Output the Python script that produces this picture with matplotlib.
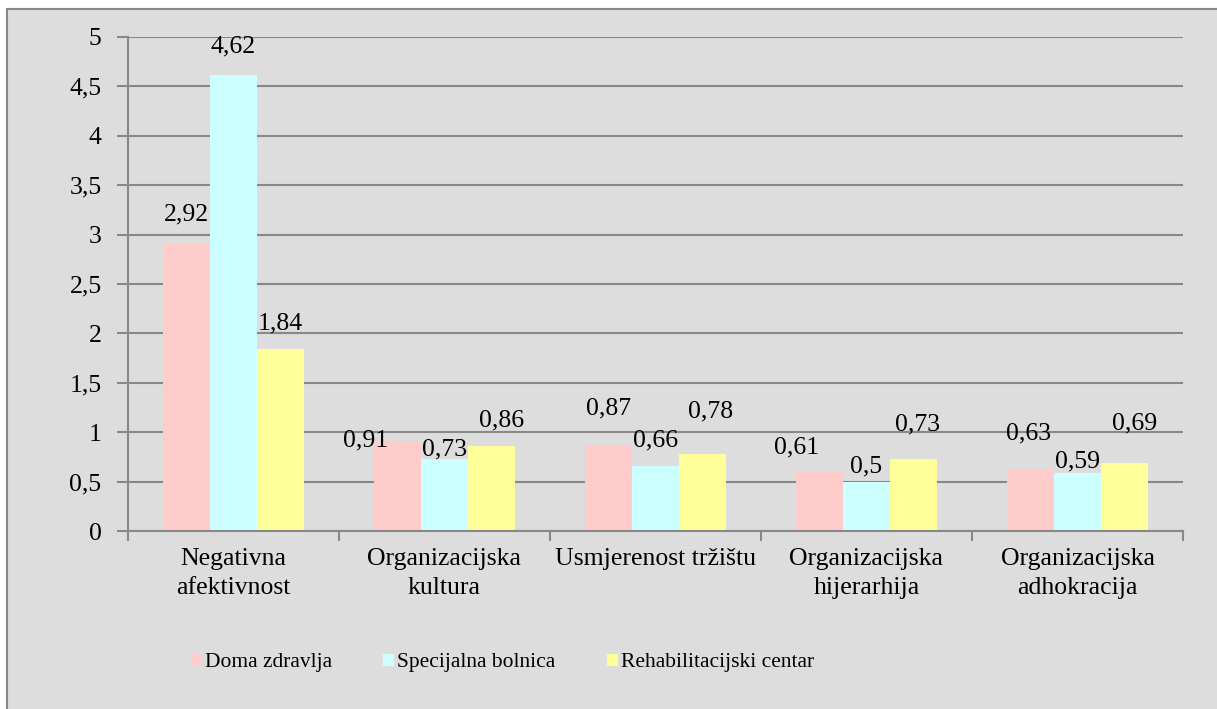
import numpy as np
import matplotlib.pyplot as plt
from matplotlib.patches import Rectangle

kategorije = ["Negativna\nafektivnost", "Organizacijska\nkultura", "Usmjerenost tržištu",
              "Organizacijska\nhijerarhija", "Organizacijska\nadhokracija"]
serije = ["Doma zdravlja", "Specijalna bolnica", "Rehabilitacijski centar"]
doma = [2.92, 0.91, 0.87, 0.61, 0.63]
specijalna = [4.62, 0.73, 0.66, 0.50, 0.59]
rehab = [1.84, 0.86, 0.78, 0.73, 0.69]
vrijednosti = [doma, specijalna, rehab]
boje = ["#FFCCCC", "#CCFFFF", "#FFFF99"]

# label positions (y in data units, x shift in category units), as placed in the original
lab_y = [[3.20, 0.92, 1.245, 0.85, 0.99],
         [4.90, 0.83, 0.92, 0.65, 0.70],
         [2.10, 1.12, 1.215, 1.08, 1.09]]
lab_dx = [[0, -0.15, 0, -0.11, -0.01],
          [0, 0, 0, 0, 0],
          [0, 0.05, 0.04, 0.02, 0.05]]

plt.rcParams['font.family'] = ['Liberation Serif', 'DejaVu Serif']
siva = "#888888"
fs = 18.5

fig = plt.figure(figsize=(12.17, 7.09), dpi=100)
fig.patch.set_facecolor("white")
pozadina = Rectangle((7 / 1217, -0.01), 1.0, 1 - 9 / 709 + 0.01,
                     transform=fig.transFigure, facecolor="#DDDDDD",
                     edgecolor=siva, linewidth=1.5, zorder=-10)
fig.patches.append(pozadina)

ax = fig.add_axes([128 / 1217, 1 - 531 / 709, (1183 - 128) / 1217, (531 - 37) / 709])
ax.set_facecolor("none")

x = np.arange(len(kategorije))
w = 0.222
for i in range(3):
    pos = x + (i - 1) * w
    ax.bar(pos, vrijednosti[i], width=w, color=boje[i], label=serije[i], zorder=2)
    for j in range(len(x)):
        ax.text(pos[j] + lab_dx[i][j], lab_y[i][j],
                ("%.2f" % vrijednosti[i][j]).rstrip("0").replace(".", ","),
                ha="center", va="center", fontsize=fs, zorder=3)

ax.set_ylim(0, 5)
ax.set_xlim(-0.5, len(kategorije) - 0.5)
ax.set_yticks(np.arange(0, 5.01, 0.5))
ax.set_yticklabels([("%g" % v).replace(".", ",") for v in np.arange(0, 5.01, 0.5)], fontsize=fs)
ax.yaxis.grid(True, color=siva, linewidth=1.5, zorder=1)
ax.set_axisbelow(True)

ax.set_xticks(np.arange(-0.5, len(kategorije), 1.0))
ax.set_xticklabels([])
ax.set_xticks(x, minor=True)
ax.set_xticklabels(kategorije, minor=True, fontsize=fs, va="top", linespacing=1.45)
ax.tick_params(axis="x", which="minor", length=0, pad=12)
ax.tick_params(axis="x", which="major", length=7, width=1.5, color=siva, direction="out")
ax.tick_params(axis="y", length=8, width=1.5, color=siva, direction="out", pad=11)

for s in ["top", "right"]:
    ax.spines[s].set_visible(False)
for s in ["left", "bottom"]:
    ax.spines[s].set_color(siva)
    ax.spines[s].set_linewidth(1.5)

fig.legend(loc="center", bbox_to_anchor=(0.413, 1 - 663 / 709), ncol=3, frameon=False,
           fontsize=15.5, handlelength=0.5, handleheight=0.5, handletextpad=0.15,
           columnspacing=2.4)

fig.savefig("out.png", dpi=100)
